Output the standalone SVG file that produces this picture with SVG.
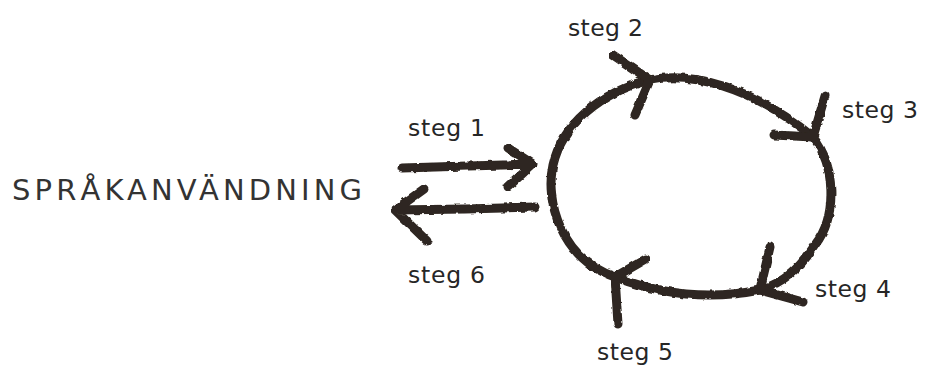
<svg xmlns="http://www.w3.org/2000/svg" width="926" height="366" viewBox="0 0 926 366">
<style>
.lbl{font-family:"DejaVu Sans","Liberation Sans",sans-serif;font-size:23.5px;fill:#262626}
.big{font-family:"DejaVu Sans","Liberation Sans",sans-serif;font-size:29px;fill:#333}
.ink{fill:none;stroke:#2e2620;stroke-width:9;stroke-linecap:round;stroke-linejoin:round;filter:url(#rough)}
</style>
<defs>
<filter id="rough" x="-10%" y="-10%" width="120%" height="120%">
<feTurbulence type="fractalNoise" baseFrequency="0.15" numOctaves="2" seed="4" result="n"/>
<feDisplacementMap in="SourceGraphic" in2="n" scale="3.5" xChannelSelector="R" yChannelSelector="G"/>
</filter>
</defs>
<rect width="926" height="366" fill="#fff"/>
<g id="sprakanvandning">
<text class="big" x="12" y="200" textLength="350" lengthAdjust="spacing">SPRÅKANVÄNDNING</text>
</g>
<g id="cycle">
<path class="ink" d="M650,80 C690,72 750,85 813,137 C835,165 838,215 815,245 C800,268 785,282 760,290 C720,298 670,298 615,277 C560,258 545,200 553,165 C562,125 600,92 650,80 Z"/>
</g>
<g id="connectors">
<path class="ink" d="M402,168 L468,166 L533,164 M508,148 L533,164 L508,187"/>
<path class="ink" d="M535,207 L465,209 L395,210 M424,189 L395,210 L427,241"/>
<path class="ink" d="M613,55 L650,80 L635,115"/>
<path class="ink" d="M825,96 L813,137 L774,135"/>
<path class="ink" d="M770,247 L760,290 L803,302"/>
<path class="ink" d="M646,259 L615,277 L618,324"/>
</g>
<g id="labels">
<text class="lbl" x="408" y="136" textLength="77" lengthAdjust="spacing">steg 1</text>
<text class="lbl" x="568" y="36" textLength="75" lengthAdjust="spacing">steg 2</text>
<text class="lbl" x="842" y="118" textLength="76" lengthAdjust="spacing">steg 3</text>
<text class="lbl" x="815" y="297" textLength="76" lengthAdjust="spacing">steg 4</text>
<text class="lbl" x="597" y="360" textLength="76" lengthAdjust="spacing">steg 5</text>
<text class="lbl" x="408" y="283" textLength="77" lengthAdjust="spacing">steg 6</text>
</g>
</svg>
